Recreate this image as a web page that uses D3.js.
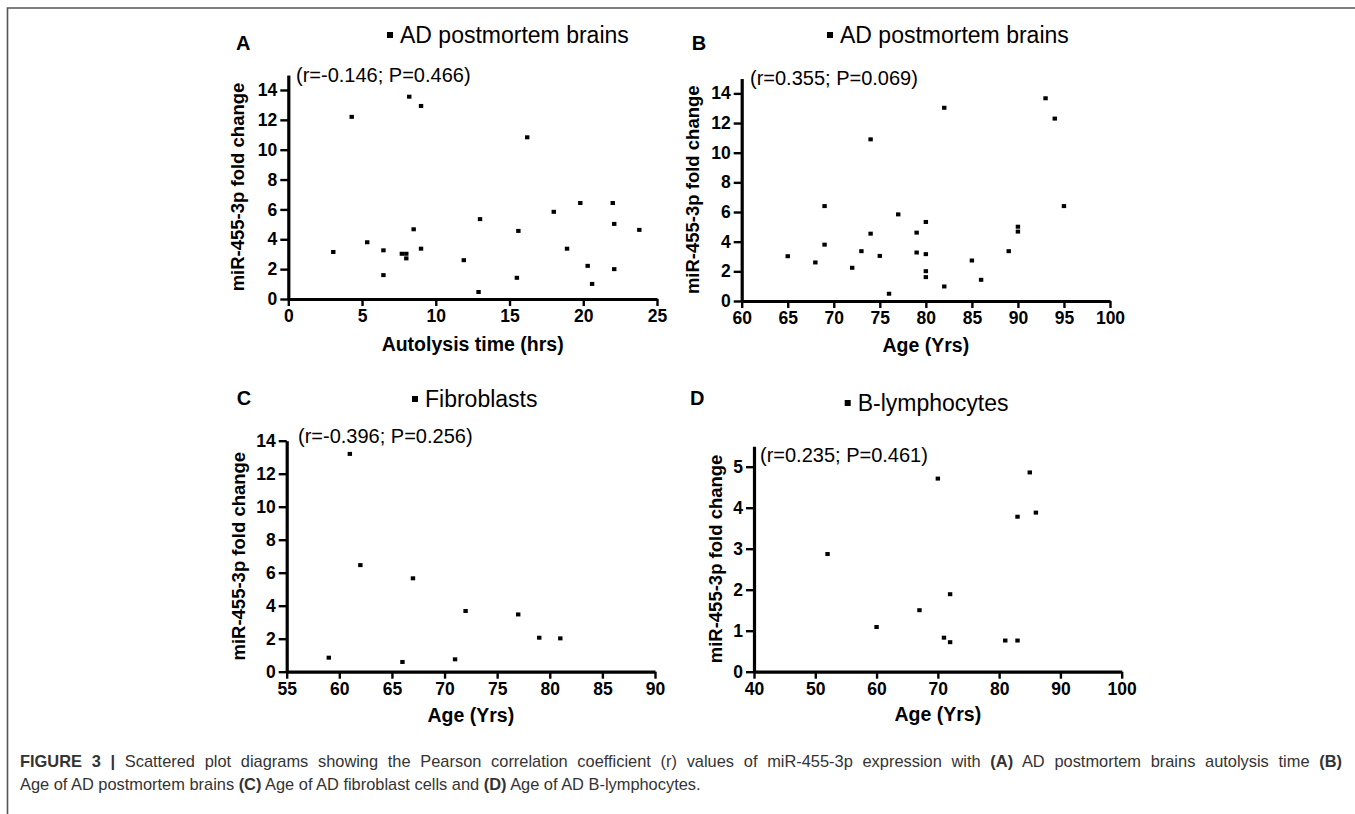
<!DOCTYPE html>
<html>
<head>
<meta charset="utf-8">
<script src="https://cdn.jsdelivr.net/npm/d3@7"></script>
<style>
  body { margin: 0; background: #fff; }
  svg text { font-family: "Liberation Sans", Arial, sans-serif; }
</style>
</head>
<body>
<div id="div"></div>
<script>
const w = 1355;
const h = 814;

// panel A: autolysis time (hrs) vs fold change
const autolysisHrs = [3.05, 4.3, 5.35, 6.45, 6.45, 7.7, 8.0, 8.0, 8.2, 8.5, 9.0, 9.0, 11.9, 12.9, 13.0, 15.5, 15.6, 16.2, 18.0, 18.9, 19.8, 20.3, 20.6, 22.0, 22.1, 22.1, 23.8];
const foldA = [3.15, 12.2, 3.8, 3.26, 1.6, 3.03, 3.03, 2.72, 13.55, 4.67, 3.37, 12.93, 2.6, 0.47, 5.35, 1.42, 4.56, 10.83, 5.84, 3.37, 6.43, 2.22, 1.01, 6.43, 5.03, 2.0, 4.63];
// panel B: age of brains
const brainAge = [65, 68, 69, 69, 72, 73, 74, 74, 75, 76, 77, 79, 79, 80, 80, 80, 80, 82, 82, 85, 86, 89, 90, 90, 93, 94, 95];
const foldB = [3.02, 2.6, 6.4, 3.8, 2.24, 3.36, 4.54, 10.9, 3.04, 0.49, 5.84, 4.61, 3.27, 5.33, 3.16, 2.01, 1.61, 0.98, 13.03, 2.73, 1.43, 3.36, 5.01, 4.68, 13.67, 12.3, 6.4];
// panel C: fibroblasts
const fibroAge = [59, 61, 62, 66, 67, 71, 72, 77, 79, 81];
const foldC = [0.85, 13.2, 6.46, 0.59, 5.66, 0.75, 3.68, 3.47, 2.06, 2.02];
// panel D: B-lymphocytes
const lymphoAge = [52, 60, 67, 70, 71, 72, 72, 81, 83, 83, 85, 86];
const foldD = [2.87, 1.09, 1.5, 4.71, 0.83, 1.89, 0.72, 0.76, 3.78, 0.76, 4.86, 3.88];

const panelLetters = ["A", "B", "C", "D"];
const panelTitles = ["AD postmortem brains", "AD postmortem brains", "Fibroblasts", "B-lymphocytes"];
const statsText = ["(r=-0.146; P=0.466)", "(r=0.355; P=0.069)", "(r=-0.396; P=0.256)", "(r=0.235; P=0.461)"];
const xTitles = ["Autolysis time (hrs)", "Age (Yrs)", "Age (Yrs)", "Age (Yrs)"];
const yTitle = "miR-455-3p fold change";
const xTicksA = [0, 5, 10, 15, 20, 25];
const xTicksB = [60, 65, 70, 75, 80, 85, 90, 95, 100];
const xTicksC = [55, 60, 65, 70, 75, 80, 85, 90];
const xTicksD = [40, 50, 60, 70, 80, 90, 100];
const yTicks14 = [0, 2, 4, 6, 8, 10, 12, 14];
const yTicks5 = [0, 1, 2, 3, 4, 5];

let svg = d3.select("#div")
    .append("svg")
    .attr("width", w)
    .attr("height", h);

// outer frame (top and left edges only)
svg.append("path")
    .attr("d", "M7.5," + h + "V8H" + w)
    .attr("fill", "none")
    .attr("stroke", "#555")
    .attr("stroke-width", 1.6);

function makePanel(p) {
    let x = d3.scaleLinear().domain(p.xDomain).range([p.left, p.right]);
    let y = d3.scaleLinear().domain([0, p.yTop]).range([p.bottom, p.bottom - p.yTop * p.yUnit]);
    let g = svg.append("g");

    let xAxis = g.append("g")
        .attr("transform", "translate(0," + p.bottom + ")")
        .call(d3.axisBottom(x).tickValues(p.xTicks).tickFormat(d3.format("d"))
            .tickSize(7).tickSizeOuter(0).tickPadding(4));
    let yAxis = g.append("g")
        .attr("transform", "translate(" + p.left + ",0)")
        .call(d3.axisLeft(y).tickValues(p.yTicks).tickFormat(d3.format("d"))
            .tickSize(8).tickSizeOuter(0).tickPadding(3));

    [xAxis, yAxis].forEach(a => {
        a.select(".domain").attr("stroke", "#000").attr("stroke-width", 3.2);
        a.selectAll(".tick line").attr("stroke", "#000").attr("stroke-width", 2.4);
        a.selectAll(".tick text")
            .attr("fill", "#000")
            .attr("font-size", 17.5)
            .attr("font-weight", "bold")
            .attr("font-family", "Liberation Sans, Arial, sans-serif");
    });

    g.selectAll("rect.pt")
        .data(p.xs)
        .join("rect")
        .attr("class", "pt")
        .attr("x", (d, i) => x(d) - 2.2)
        .attr("y", (d, i) => y(p.ys[i]) - 2)
        .attr("width", 4.4)
        .attr("height", 4)
        .attr("fill", "#000");

    g.append("text")
        .attr("x", p.letter[0])
        .attr("y", p.letter[1])
        .attr("font-size", 20)
        .attr("font-weight", "bold")
        .text(p.letterText);

    g.append("rect")
        .attr("x", p.title[0] - 13)
        .attr("y", p.title[1] - 11)
        .attr("width", 6)
        .attr("height", 6)
        .attr("fill", "#000");
    g.append("text")
        .attr("x", p.title[0])
        .attr("y", p.title[1])
        .attr("font-size", 23)
        .text(p.titleText);

    g.append("text")
        .attr("x", p.stats[0])
        .attr("y", p.stats[1])
        .attr("font-size", 20)
        .text(p.statsText);

    g.append("text")
        .attr("text-anchor", "middle")
        .attr("x", (p.left + p.right) / 2)
        .attr("y", p.xTitleY)
        .attr("font-size", 19.5)
        .attr("font-weight", "bold")
        .text(p.xTitle);

    g.append("text")
        .attr("text-anchor", "middle")
        .attr("transform", "rotate(-90)")
        .attr("x", -(y(0) + y(p.yTop)) / 2)
        .attr("y", p.left - p.yTitleOff)
        .attr("font-size", 18.5)
        .attr("font-weight", "bold")
        .text(yTitle);
}

makePanel({xDomain: [0, 25], left: 288.3, right: 657, bottom: 299, yTop: 15, yUnit: 14.93,
    xTicks: xTicksA, yTicks: yTicks14, xs: autolysisHrs, ys: foldA,
    letter: [236, 50], letterText: panelLetters[0], title: [400, 43], titleText: panelTitles[0],
    stats: [296, 82], statsText: statsText[0], xTitle: xTitles[0], xTitleY: 351, yTitleOff: 44});
makePanel({xDomain: [60, 100], left: 741.7, right: 1110, bottom: 301, yTop: 15, yUnit: 14.83,
    xTicks: xTicksB, yTicks: yTicks14, xs: brainAge, ys: foldB,
    letter: [691.7, 50], letterText: panelLetters[1], title: [840, 43], titleText: panelTitles[1],
    stats: [750, 85], statsText: statsText[1], xTitle: xTitles[1], xTitleY: 352, yTitleOff: 43});
makePanel({xDomain: [55, 90], left: 286.7, right: 655, bottom: 671.7, yTop: 14, yUnit: 16.5,
    xTicks: xTicksC, yTicks: yTicks14, xs: fibroAge, ys: foldC,
    letter: [236.7, 405], letterText: panelLetters[2], title: [425, 407], titleText: panelTitles[2],
    stats: [298, 443], statsText: statsText[2], xTitle: xTitles[2], xTitleY: 722, yTitleOff: 42});
makePanel({xDomain: [40, 100], left: 754, right: 1121.7, bottom: 671.7, yTop: 5.5, yUnit: 41,
    xTicks: xTicksD, yTicks: yTicks5, xs: lymphoAge, ys: foldD,
    letter: [690, 405], letterText: panelLetters[3], title: [857.7, 411], titleText: panelTitles[3],
    stats: [760, 462], statsText: statsText[3], xTitle: xTitles[3], xTitleY: 721, yTitleOff: 32});

// caption (first line justified to the full width, like the journal layout)
const captionLines = [
    [["FIGURE 3 |", true], [" Scattered plot diagrams showing the Pearson correlation coefficient (r) values of miR-455-3p expression with ", false],
     ["(A)", true], [" AD postmortem brains autolysis time ", false], ["(B)", true]],
    [["Age of AD postmortem brains ", false], ["(C)", true], [" Age of AD fibroblast cells and ", false], ["(D)", true], [" Age of AD B-lymphocytes.", false]]
];
captionLines.forEach((line, li) => {
    let t = svg.append("text")
        .attr("x", 20)
        .attr("y", 767 + li * 23)
        .attr("font-size", 16.4)
        .attr("fill", "#333")
        .style("white-space", "pre");
    line.forEach(seg => {
        t.append("tspan")
            .attr("font-weight", seg[1] ? "bold" : "normal")
            .text(seg[0]);
    });
    if (li == 0) {
        let natural = t.node().getComputedTextLength();
        let spaces = line.map(s => s[0]).join("").split(" ").length - 1;
        t.attr("word-spacing", (1322 - natural) / spaces);
    }
});
</script>
</body>
</html>
